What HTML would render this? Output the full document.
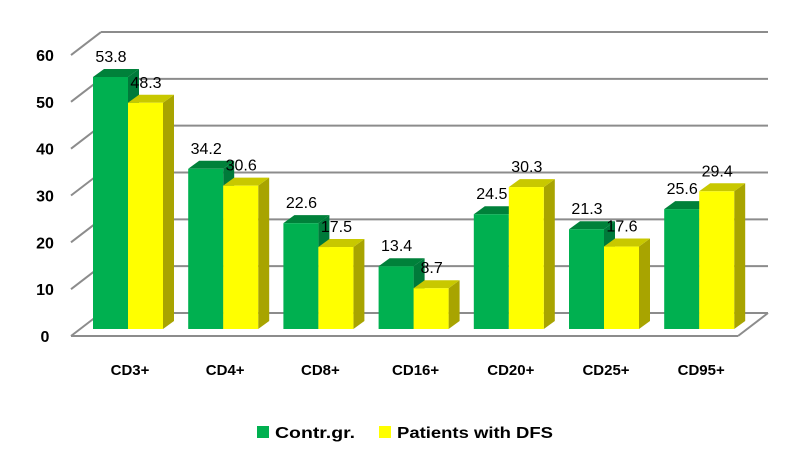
<!DOCTYPE html>
<html><head><meta charset="utf-8"><style>
html,body{margin:0;padding:0;background:#fff;}
svg{display:block;}
text{font-family:"Liberation Sans",sans-serif;}
</style></head><body>
<svg id="c" width="810" height="467" xmlns="http://www.w3.org/2000/svg"></svg>
<script>
var s=document.getElementById('c'),h='';
for(var i=0;i<=6;i++){
 var by=313-i*46.83;
 h+='<line x1="101" y1="'+by+'" x2="768" y2="'+by+'" stroke="#8c8c8c" stroke-width="2"/>';
 h+='<line x1="71" y1="'+(by+23)+'" x2="101" y2="'+by+'" stroke="#8c8c8c" stroke-width="2"/>';
 h+='<text x="45" y="'+(by+23+6)+'" font-size="16" font-weight="bold" text-anchor="middle" fill="#000">'+(i*10)+'</text>';
}
h+='<line x1="71" y1="336" x2="738" y2="336" stroke="#8c8c8c" stroke-width="2"/>';
h+='<line x1="738" y1="336" x2="768" y2="313" stroke="#8c8c8c" stroke-width="2"/>';
var g=[53.8,34.2,22.6,13.4,24.5,21.3,25.6],y=[48.3,30.6,17.5,8.7,30.3,17.6,29.4];
var cats=['CD3+','CD4+','CD8+','CD16+','CD20+','CD25+','CD95+'];
var k=4.684,base=329,w=35,dx=11,dy=-8;
function bar(x,v,face,top,side){
 var t=base-v*k,r='';
 r+='<polygon points="'+(x+w)+','+t+' '+(x+w+dx)+','+(t+dy)+' '+(x+w+dx)+','+(base+dy)+' '+(x+w)+','+base+'" fill="'+side+'"/>';
 r+='<polygon points="'+x+','+t+' '+(x+dx)+','+(t+dy)+' '+(x+w+dx)+','+(t+dy)+' '+(x+w)+','+t+'" fill="'+top+'"/>';
 r+='<rect x="'+x+'" y="'+t+'" width="'+w+'" height="'+(base-t)+'" fill="'+face+'"/>';
 return r;
}
var labels='';
for(var i=0;i<7;i++){
 var x=93+i*95.2;
 h+=bar(x,g[i],'#00b050','#00813a','#007a3a');
 h+=bar(x+w,y[i],'#ffff00','#c8c800','#a8a400');
 labels+='<text x="'+(x+18)+'" y="'+(base-g[i]*k-15)+'" font-size="16" text-anchor="middle">'+g[i].toFixed(1)+'</text>';
 labels+='<text x="'+(x+w+18)+'" y="'+(base-y[i]*k-15)+'" font-size="16" text-anchor="middle">'+y[i].toFixed(1)+'</text>';
 h+='<text x="'+(x+w+2)+'" y="375" font-size="15" font-weight="bold" text-anchor="middle">'+cats[i]+'</text>';
}
h+=labels;
h+='<rect x="257" y="426" width="12" height="12" fill="#00b050"/>';
h+='<text x="275" y="438" font-size="16" font-weight="bold" textLength="80" lengthAdjust="spacingAndGlyphs">Contr.gr.</text>';
h+='<rect x="379" y="426" width="12" height="12" fill="#ffff00"/>';
h+='<text x="397" y="438" font-size="16" font-weight="bold" textLength="156" lengthAdjust="spacingAndGlyphs">Patients with DFS</text>';
s.innerHTML=h;
</script>
</body></html>
